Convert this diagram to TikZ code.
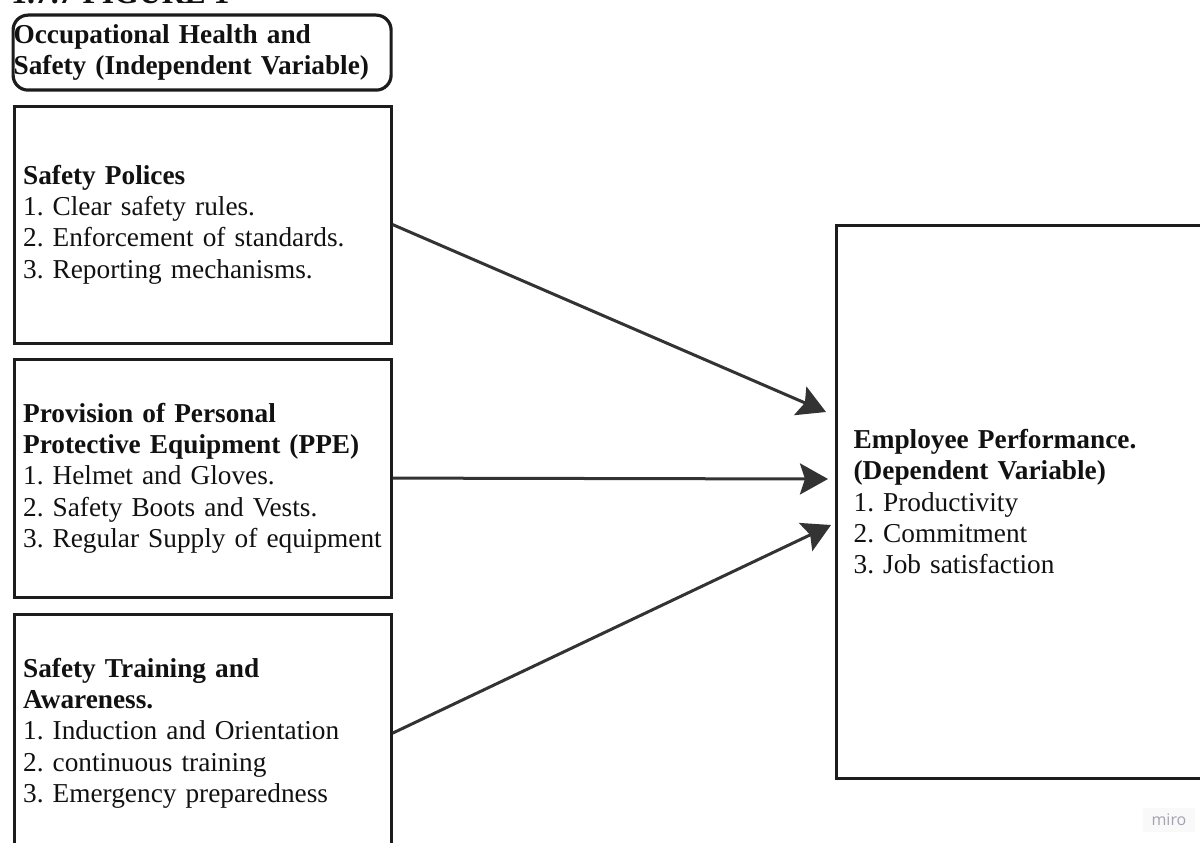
\documentclass[tikz,border=0pt]{standalone}
\usepackage{fontspec}
\setmainfont{Liberation Serif}
\newfontfamily\wmfont{Open Sans}
\usetikzlibrary{arrows.meta}
\definecolor{boxline}{HTML}{1C1C1C}
\definecolor{arrowcol}{HTML}{333333}
\definecolor{textcol}{HTML}{111111}
\definecolor{wmtext}{HTML}{A3A3B0}
\definecolor{wmbg}{HTML}{F9F9FA}
\frenchspacing
\begin{document}
\begin{tikzpicture}[x=1pt,y=-1pt,
  every node/.style={text=textcol, font=\fontsize{27.3}{31.3}\selectfont},
  varbox/.style={draw=boxline, line width=3.2pt, rectangle, anchor=north west,
    align=left, inner ysep=0pt, execute at begin node={\hyphenpenalty=10000 \frenchspacing}},
  arr/.style={draw=arrowcol, line width=3pt,
    -{Stealth[length=28pt, width=31pt, inset=5pt]}}
]
\useasboundingbox (0,0) rectangle (1200,843);
\clip (0,0) rectangle (1200,843);
\fill[white] (0,0) rectangle (1200,843);

% cut-off heading
\node[anchor=base west, inner sep=0pt, font=\fontsize{31.7}{36}\selectfont\bfseries] (ttl) at (11,4) {1.7.7 FIGURE 1};

% header
\node[varbox, rounded corners=15pt, minimum width=378pt, minimum height=75pt,
  text width=377pt, inner xsep=0.5pt] (hdr) at (11.5,13.5)
  {\textbf{Occupational Health and}\\\textbf{Safety (Independent Variable)}};

% left boxes
\node[varbox, minimum width=377pt, minimum height=237pt, text width=359pt, inner xsep=9pt] (b1) at (12.5,104.5)
  {\textbf{Safety Polices}\\1. Clear safety rules.\\2. Enforcement of standards.\\3. Reporting mechanisms.};
\node[varbox, minimum width=377pt, minimum height=238pt, text width=359pt, inner xsep=9pt] (b2) at (12.5,357.5)
  {\textbf{Provision of Personal}\\\textbf{Protective Equipment (PPE)}\\1. Helmet and Gloves.\\2. Safety Boots and Vests.\\3. Regular Supply of equipment};
\node[varbox, minimum width=377pt, minimum height=238pt, text width=359pt, inner xsep=9pt] (b3) at (12.5,612.5)
  {\textbf{Safety Training and}\\\textbf{Awareness.}\\1. Induction and Orientation\\2. continuous training\\3. Emergency preparedness};

% right box
\node[varbox, minimum width=380pt, minimum height=553pt, text width=345pt, inner xsep=17.5pt] (R) at (834.5,223.5)
  {\textbf{Employee Performance.}\\\textbf{(Dependent Variable)}\\1. Productivity\\2. Commitment\\3. Job satisfaction};

% arrow ends
\coordinate (e1) at (826,412);
\coordinate (e2) at (828,479);
\coordinate (e3) at (831,525);
\draw[arr] (b1.east) -- (e1);
\draw[arr] (b2.east) -- (e2);
\draw[arr] (b3.east) -- (e3);

% watermark
\node[fill=wmbg, inner xsep=9pt, inner ysep=6pt, anchor=center, text=wmtext,
  font=\wmfont\fontsize{16}{19}\selectfont] (wm) at (1169,820) {miro};
\end{tikzpicture}
\end{document}
